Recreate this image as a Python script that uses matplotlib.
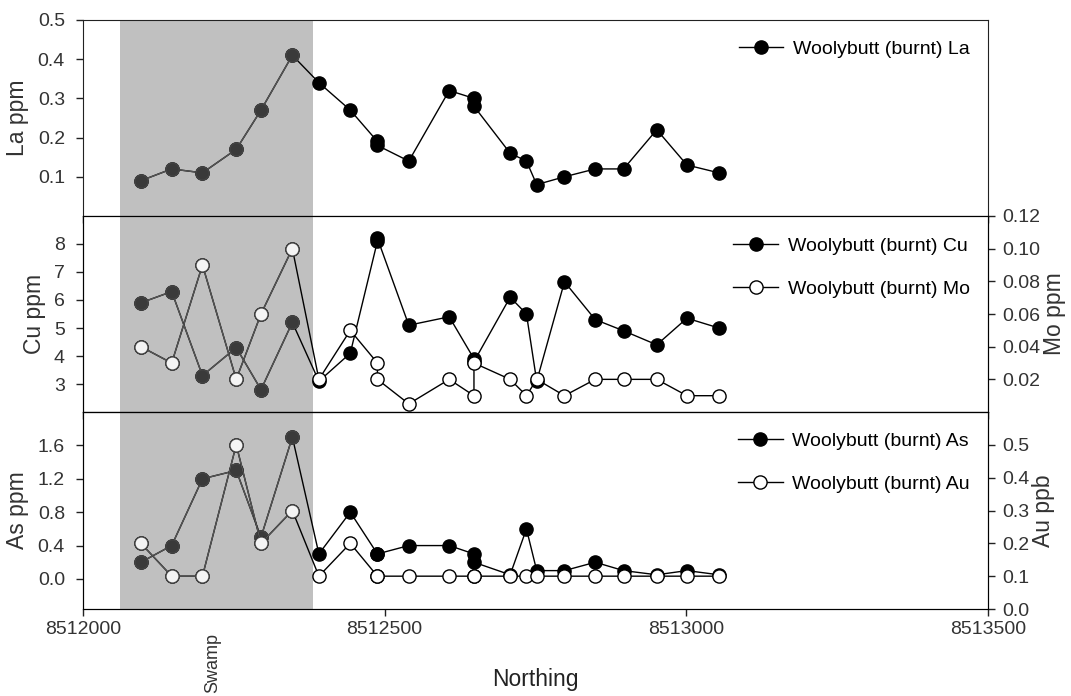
import matplotlib
matplotlib.use("Agg")
import matplotlib.pyplot as plt

plt.rcParams['font.family'] = ['Liberation Sans', 'DejaVu Sans']
plt.rcParams['font.size'] = 14

# sample positions (two samples at sites 9 and 12)
northing = [8512096, 8512147, 8512198, 8512254, 8512295, 8512347, 8512391,
            8512443, 8512488, 8512488, 8512540, 8512607, 8512648, 8512648,
            8512708, 8512735, 8512752, 8512798, 8512849, 8512896, 8512951,
            8513001, 8513054]

la = [0.09, 0.12, 0.11, 0.17, 0.27, 0.41, 0.34, 0.27, 0.19, 0.18, 0.14, 0.32,
      0.30, 0.28, 0.16, 0.14, 0.08, 0.10, 0.12, 0.12, 0.22, 0.13, 0.11]
cu = [5.9, 6.3, 3.3, 4.3, 2.8, 5.2, 3.1, 4.1, 8.1, 8.2, 5.1, 5.4, 3.9, 3.8,
      6.1, 5.5, 3.1, 6.65, 5.3, 4.9, 4.4, 5.35, 5.0]
mo = [0.04, 0.03, 0.09, 0.02, 0.06, 0.10, 0.02, 0.05, 0.03, 0.02, 0.005, 0.02,
      0.01, 0.03, 0.02, 0.01, 0.02, 0.01, 0.02, 0.02, 0.02, 0.01, 0.01]
as_ = [0.2, 0.4, 1.2, 1.3, 0.5, 1.7, 0.3, 0.8, 0.3, 0.3, 0.4, 0.4, 0.3, 0.2,
       0.05, 0.6, 0.1, 0.1, 0.2, 0.1, 0.05, 0.1, 0.05]
au = [0.2, 0.1, 0.1, 0.5, 0.2, 0.3, 0.1, 0.2, 0.1, 0.1, 0.1, 0.1, 0.1, 0.1,
      0.1, 0.1, 0.1, 0.1, 0.1, 0.1, 0.1, 0.1, 0.1]

swamp = (8512062, 8512381)
xticks = [8512000, 8512500, 8513000, 8513500]

fig = plt.figure(figsize=(10.71, 6.96), dpi=100)
L, W = 0.0775, 0.8450
ax1 = fig.add_axes([L, 0.6897, W, 0.2816])
ax2 = fig.add_axes([L, 0.4080, W, 0.2817])
ax3 = fig.add_axes([L, 0.1250, W, 0.2830])

ms = 9.5
txt = '#333333'


def series(ax, y, filled, label):
    fc = 'black' if filled else 'white'
    line, = ax.plot(northing, y, '-', color='black', lw=1.0, marker='o', ms=ms,
                    mfc=fc, mec='black', mew=1.0, label=label, zorder=3)
    # points inside the swamp look dimmer
    sx = [x for x in northing if x < swamp[1]]
    sy = y[:len(sx)]
    ax.plot(sx, sy, '-', color='#555555', lw=1.0, marker='o', ms=ms,
            mfc='#3a3a3a' if filled else '#f4f4f4', mec='#444444', mew=1.0,
            zorder=3.5)
    return line


def right_axis(ax):
    ax.tick_params(direction='out', length=5, width=1, colors='#222222',
                   labelcolor=txt, pad=5)


for ax in (ax1, ax2, ax3):
    ax.axvspan(swamp[0], swamp[1], color='#c0c0c0', lw=0, zorder=0)
    ax.set_xlim(8512000, 8513500)
    ax.set_xticks(xticks)
    ax.ticklabel_format(axis='x', style='plain', useOffset=False)
    ax.tick_params(direction='out', length=5, width=1, colors='#222222',
                   labelcolor=txt)
    ax.tick_params(axis='y', pad=8)
    ax.tick_params(axis='x', pad=4)
    for s in ax.spines.values():
        s.set_color('#222222')

ax1.tick_params(axis='x', labelbottom=False)
ax2.tick_params(axis='x', labelbottom=False)

leg_kw = dict(loc='upper right', frameon=False, handlelength=2.3,
              fontsize=14, handletextpad=0.5, borderaxespad=0.3)

# La
h = series(ax1, la, True, 'Woolybutt (burnt) La')
ax1.set_ylim(0, 0.5)
ax1.set_yticks([0.1, 0.2, 0.3, 0.4, 0.5])
ax1.set_ylabel('La ppm', fontsize=16.5, color=txt, labelpad=6)
ax1.legend(handles=[h], bbox_to_anchor=(0.995, 0.965), **leg_kw)

# Cu / Mo
h1 = series(ax2, cu, True, 'Woolybutt (burnt) Cu')
ax2.set_ylim(2, 9)
ax2.set_yticks([3, 4, 5, 6, 7, 8])
ax2.set_ylabel('Cu ppm', fontsize=16.5, color=txt, labelpad=6)
ax2r = ax2.twinx()
h2 = series(ax2r, mo, False, 'Woolybutt (burnt) Mo')
ax2r.set_ylim(0, 0.12)
ax2r.set_yticks([0.02, 0.04, 0.06, 0.08, 0.10, 0.12])
ax2r.set_yticklabels(['0.02', '0.04', '0.06', '0.08', '0.10', '0.12'])
ax2r.set_ylabel('Mo ppm', fontsize=16.5, color=txt, labelpad=2)
right_axis(ax2r)
ax2r.legend(handles=[h1, h2], bbox_to_anchor=(0.995, 0.96),
            labelspacing=1.3, **leg_kw)

# As / Au
h1 = series(ax3, as_, True, 'Woolybutt (burnt) As')
ax3.set_ylim(-0.36, 2.0)
ax3.set_yticks([0.0, 0.4, 0.8, 1.2, 1.6])
ax3.set_ylabel('As ppm', fontsize=16.5, color=txt, labelpad=6)
ax3r = ax3.twinx()
h2 = series(ax3r, au, False, 'Woolybutt (burnt) Au')
ax3r.set_ylim(0, 0.6)
ax3r.set_yticks([0.0, 0.1, 0.2, 0.3, 0.4, 0.5])
ax3r.set_ylabel('Au ppb', fontsize=16.5, color=txt, labelpad=2)
right_axis(ax3r)
ax3r.legend(handles=[h1, h2], bbox_to_anchor=(0.995, 0.965),
            labelspacing=1.3, **leg_kw)
ax3.set_xlabel('Northing', fontsize=16.5, color='#222222', labelpad=21)

fig.text(0.199, 0.005, 'Swamp', rotation=90, ha='center', va='bottom',
         fontsize=13, color=txt)

fig.savefig('out.png', dpi=100)
